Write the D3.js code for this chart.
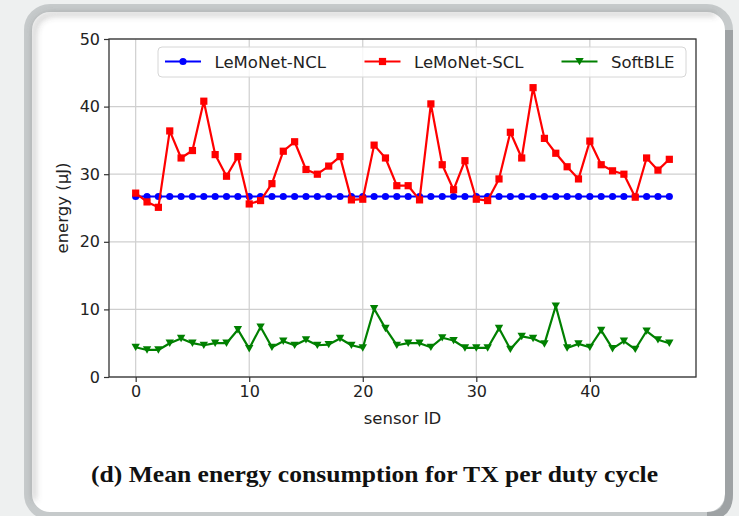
<!DOCTYPE html>
<html>
<head>
<meta charset="utf-8">
<script src="https://cdn.jsdelivr.net/npm/d3@7"></script>
<style>
  html, body { margin: 0; padding: 0; background: #eef0f0; }
  svg { display: block; }
</style>
</head>
<body>
<svg id="chart"></svg>
<script>
const sensorIds = d3.range(48);
const ncl = [26.7, 26.7, 26.7, 26.7, 26.7, 26.7, 26.7, 26.7, 26.7, 26.7,
  26.7, 26.7, 26.7, 26.7, 26.7, 26.7, 26.7, 26.7, 26.7, 26.7,
  26.7, 26.7, 26.7, 26.7, 26.7, 26.7, 26.7, 26.7, 26.7, 26.7,
  26.7, 26.7, 26.7, 26.7, 26.7, 26.7, 26.7, 26.7, 26.7, 26.7,
  26.7, 26.7, 26.7, 26.7, 26.7, 26.7, 26.7, 26.7];
const scl = [27.2, 25.9, 25.1, 36.4, 32.4, 33.5, 40.8, 32.9, 29.7, 32.6,
  25.6, 26.1, 28.6, 33.4, 34.8, 30.7, 30.0, 31.2, 32.6, 26.2,
  26.3, 34.3, 32.4, 28.3, 28.3, 26.2, 40.4, 31.4, 27.7, 32.0,
  26.3, 26.1, 29.3, 36.2, 32.4, 42.8, 35.3, 33.1, 31.1, 29.3,
  34.9, 31.4, 30.5, 30.0, 26.6, 32.4, 30.6, 32.2];
const softble = [4.4, 4.0, 4.0, 5.0, 5.7, 5.0, 4.7, 5.0, 5.0, 7.0,
  4.2, 7.4, 4.4, 5.3, 4.7, 5.5, 4.7, 4.8, 5.7, 4.7,
  4.3, 10.1, 7.2, 4.7, 5.0, 5.0, 4.4, 5.8, 5.4, 4.3,
  4.3, 4.3, 7.2, 4.1, 6.0, 5.7, 4.9, 10.5, 4.3, 4.9,
  4.4, 6.9, 4.2, 5.3, 4.1, 6.8, 5.5, 5.0];
const xTicks = [0, 10, 20, 30, 40];
const yTicks = [0, 10, 20, 30, 40, 50];
const seriesNames = ["LeMoNet-NCL", "LeMoNet-SCL", "SoftBLE"];
const caption = "(d) Mean energy consumption for TX per duty cycle";

const width = 739, height = 516;
const plot = { left: 109, right: 696, top: 39, bottom: 377 };

const svg = d3.select("#chart").attr("width", width).attr("height", height);

// framed card
const defs = svg.append("defs");
const sh = defs.append("filter").attr("id", "inset").attr("x", "-5%").attr("y", "-5%").attr("width", "110%").attr("height", "110%");
sh.append("feGaussianBlur").attr("stdDeviation", 3);

svg.append("rect").attr("x", 28).attr("y", 8).attr("width", 701).attr("height", 508).attr("rx", 22)
  .attr("fill", "#fff").attr("stroke", "#c6cacb").attr("stroke-width", 8);
svg.append("path")
  .attr("d", "M 34 500 L 34 36 Q 34 14 56 14 L 716 14")
  .attr("fill", "none").attr("stroke", "#555").attr("stroke-opacity", 0.45).attr("stroke-width", 3)
  .attr("filter", "url(#inset)");
svg.append("path")
  .attr("d", "M 729 30 L 729 494 Q 729 516 707 516")
  .attr("fill", "none").attr("stroke", "#9ea2a4").attr("stroke-width", 8);

const x = d3.scaleLinear().domain([-2.35, 49.35]).range([plot.left, plot.right]);
const y = d3.scaleLinear().domain([0, 50]).range([plot.bottom, plot.top]);

const g = svg.append("g").style("font-family", "DejaVu Sans, sans-serif");

// grid
g.append("g").selectAll("line").data(xTicks).join("line")
  .attr("x1", d => x(d)).attr("x2", d => x(d)).attr("y1", plot.top).attr("y2", plot.bottom)
  .attr("stroke", "#cfcfcf").attr("stroke-width", 1.2);
g.append("g").selectAll("line").data(yTicks).join("line")
  .attr("x1", plot.left).attr("x2", plot.right).attr("y1", d => y(d)).attr("y2", d => y(d))
  .attr("stroke", "#cfcfcf").attr("stroke-width", 1.2);

// axes
const xAxis = g.append("g").attr("transform", `translate(0,${plot.bottom})`)
  .call(d3.axisBottom(x).tickValues(xTicks).tickSize(5).tickPadding(4).tickSizeOuter(0));
const yAxis = g.append("g").attr("transform", `translate(${plot.left},0)`)
  .call(d3.axisLeft(y).tickValues(yTicks).tickSize(5).tickPadding(4).tickSizeOuter(0));
[xAxis, yAxis].forEach(a => {
  a.select(".domain").remove();
  a.selectAll(".tick line").attr("stroke", "#333").attr("stroke-width", 1.2);
  a.selectAll(".tick text").attr("fill", "#222").style("font-size", "16px").style("font-family", "DejaVu Sans, sans-serif");
});
g.append("rect").attr("x", plot.left).attr("y", plot.top)
  .attr("width", plot.right - plot.left).attr("height", plot.bottom - plot.top)
  .attr("fill", "none").attr("stroke", "#333").attr("stroke-width", 1.3);

// series
const series = [
  { name: seriesNames[0], values: ncl, color: "#0000ff", marker: "circle" },
  { name: seriesNames[1], values: scl, color: "#ff0000", marker: "square" },
  { name: seriesNames[2], values: softble, color: "#008000", marker: "tri" }
];
const line = d3.line().x((d, i) => x(sensorIds[i])).y(d => y(d));

function drawMarker(sel, type, color) {
  if (type === "circle") {
    sel.append("circle").attr("r", 3.6).attr("fill", color);
  } else if (type === "square") {
    sel.append("rect").attr("x", -3.6).attr("y", -3.6).attr("width", 7.2).attr("height", 7.2).attr("fill", color);
  } else {
    sel.append("path").attr("d", "M -4.2 -3.6 L 4.2 -3.6 L 0 3.8 Z").attr("fill", color);
  }
}

series.forEach(s => {
  const sg = g.append("g");
  sg.append("path").datum(s.values).attr("d", line)
    .attr("fill", "none").attr("stroke", s.color).attr("stroke-width", 2.2).attr("stroke-linejoin", "round");
  sg.selectAll("g").data(s.values).join("g")
    .attr("transform", (d, i) => `translate(${x(sensorIds[i])},${y(d)})`)
    .each(function () { drawMarker(d3.select(this), s.marker, s.color); });
});

// legend
const legend = g.append("g");
legend.append("rect").attr("x", 158).attr("y", 47).attr("width", 528).attr("height", 30).attr("rx", 4)
  .attr("fill", "#fff").attr("fill-opacity", 0.8).attr("stroke", "#d6d6d6");
const legendX = [165, 364.5, 561.5];
series.forEach((s, i) => {
  const lg = legend.append("g").attr("transform", `translate(${legendX[i]},61.5)`);
  lg.append("line").attr("x1", 0).attr("x2", 36).attr("stroke", s.color).attr("stroke-width", 2.2);
  drawMarker(lg.append("g").attr("transform", "translate(18,0)"), s.marker, s.color);
  lg.append("text").attr("x", 49.5).attr("y", 6).text(s.name)
    .style("font-size", "16.5px").attr("fill", "#222");
});

// labels
g.append("text").attr("x", (plot.left + plot.right) / 2).attr("y", 424)
  .attr("text-anchor", "middle").style("font-size", "16.5px").attr("fill", "#222").text("sensor ID");
g.append("text").attr("transform", `translate(68,208) rotate(-90)`)
  .attr("text-anchor", "middle").style("font-size", "16.5px").attr("fill", "#222").text("energy (μJ)");

svg.append("text").attr("x", 91).attr("y", 482)
  .style("font-family", "Liberation Serif, serif").style("font-weight", "bold").style("font-size", "24px")
  .attr("textLength", 567).attr("lengthAdjust", "spacingAndGlyphs")
  .attr("fill", "#111").text(caption);
</script>
</body>
</html>
